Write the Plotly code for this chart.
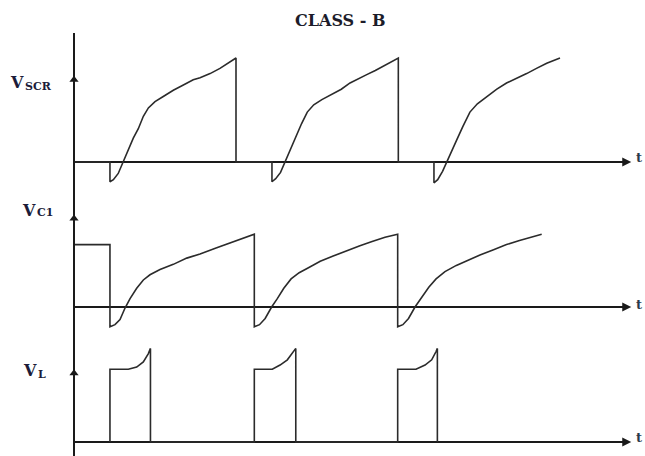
import plotly.graph_objects as go

# ---- waveform data (time in ms, voltage in relative units) ----
# SCR voltage
t_scr = [0, 2.22, 2.22, 2.43, 2.73, 3.04, 3.35, 3.66, 3.97, 4.28, 4.59, 5.00, 5.51, 6.13, 6.75, 7.36,
         7.78, 8.40, 9.01, 9.63, 10.0, 10.0,
         12.22, 12.22, 12.45, 12.75, 13.02, 13.35, 13.7, 14.05, 14.4, 14.8, 15.3, 15.9, 16.5, 17.04,
         17.6, 18.07, 18.6, 19.07, 19.6, 20.02, 20.02,
         22.22, 22.22, 22.45, 22.75, 23.0, 23.3, 23.62, 24.0, 24.44, 24.9, 25.47, 26.1, 26.7, 27.3,
         27.94, 28.55, 29.18, 30.0]
v_scr = [0, 0, -19, -17, -11, 0, 12, 23, 32, 44, 52, 58, 63, 69, 74, 79,
         81, 85, 90, 96, 100, 0,
         0, -19, -16, -10, 0, 12, 25, 37, 48, 55, 60, 65, 70, 76,
         80, 84, 88, 92, 96, 100, 0,
         0, -20, -17, -9, 0, 10, 21, 34, 48, 56, 63, 70, 76, 80,
         85, 90, 95, 100]

# Commutating capacitor voltage
t_c1 = [0, 2.22, 2.22, 2.53, 2.84, 3.15, 3.46, 3.87, 4.28, 4.69, 5.31, 6.13, 6.96, 7.78, 8.81, 9.83,
        11.13, 11.13,
        11.45, 11.8, 12.2, 12.55, 12.95, 13.4, 13.9, 14.5, 15.2, 16.0, 16.8, 17.65, 18.4, 19.2,
        19.98, 19.98,
        20.3, 20.65, 21.05, 21.45, 21.9, 22.35, 22.9, 23.6, 24.3, 25.06, 25.9, 26.7, 27.5, 28.2, 28.87]
v_c1 = [60, 60, -19, -17, -12, -1, 8, 18, 26, 31, 36, 41, 47, 51, 57, 63,
        70, -19,
        -17, -11, 0, 8, 18, 27, 33, 38, 44, 49, 54, 59, 63, 67,
        70, -19,
        -17, -11, 0, 9, 19, 27, 34, 40, 45, 50, 55, 60, 64, 67, 70]

# Load voltage
t_l = [2.22, 2.22, 3.35, 3.87, 4.28, 4.59, 4.72, 4.72,
       11.13, 11.13, 12.24, 12.72, 13.17, 13.54, 13.69, 13.69,
       19.98, 19.98, 21.11, 21.67, 22.08, 22.35, 22.43, 22.43]
v_l = [0, 70, 70, 72, 77, 85, 90, 0,
       0, 70, 70, 74, 79, 87, 90, 0,
       0, 70, 70, 74, 79, 87, 90, 0]

# panel labels: main symbol and subscript
label_main = ["V", "V", "V"]
label_sub = ["SCR", "C1", "L"]

# arrow marks on the shared vertical axis, one per panel
axis_marks = [79, 85, 66]
t_end = 34.4

W, H = 645, 456
X0_PX, PX_PER_MS, PX_PER_V = 74, 16.2, 1.04


def panel(top_px, bottom_px, base_px):
    dom = [1 - bottom_px / H, 1 - top_px / H]
    rng = [(base_px - bottom_px) / PX_PER_V, (base_px - top_px) / PX_PER_V]
    return dict(domain=dom, range=rng, visible=False, anchor="x", fixedrange=True)


fig = go.Figure()
ink = "#1a1a1a"
wave = dict(color="#2b2b2b", width=1.6)
panels = ["y", "y2", "y3"]

# time axes with arrowheads
for ax in panels:
    fig.add_trace(go.Scatter(x=[0, t_end - 0.3], y=[0, 0], mode="lines", yaxis=ax,
                             line=dict(color=ink, width=2), hoverinfo="skip"))
    fig.add_trace(go.Scatter(x=[t_end], y=[0], mode="markers", yaxis=ax,
                             marker=dict(symbol="arrow-right", size=9, color=ink,
                                         line=dict(width=0)),
                             hoverinfo="skip", cliponaxis=False))

for t, v, ax in [(t_scr, v_scr, "y"), (t_c1, v_c1, "y2"), (t_l, v_l, "y3")]:
    fig.add_trace(go.Scatter(x=t, y=v, mode="lines", line=wave, yaxis=ax, xaxis="x",
                             hoverinfo="skip", cliponaxis=False))

for mark, ax in zip(axis_marks, panels):
    fig.add_trace(go.Scatter(x=[0], y=[mark], mode="markers", yaxis=ax,
                             marker=dict(symbol="triangle-up", size=8, color=ink),
                             hoverinfo="skip", cliponaxis=False))

annotations = []
serif = "DejaVu Serif"
label_color = "#1c1c3a"
# (right edge of the V, vertical centre of V, vertical centre of subscript) in pixels
label_pos = [(26, 82, 87), (38, 210, 213), (39, 370, 374)]
for main, sub, (xr, ym, ys) in zip(label_main, label_sub, label_pos):
    annotations.append(dict(x=xr / W, y=1 - ym / H, xref="paper", yref="paper", text=main,
                            showarrow=False, xanchor="right", yanchor="middle",
                            font=dict(family=serif, size=16, color=label_color, weight="bold")))
    annotations.append(dict(x=(xr - 3) / W, y=1 - ys / H, xref="paper", yref="paper", text=sub,
                            showarrow=False, xanchor="left", yanchor="middle",
                            font=dict(family=serif, size=11, color=label_color, weight="bold")))

for yp in [157, 304, 437]:
    annotations.append(dict(x=639 / W, y=1 - yp / H, xref="paper", yref="paper", text="t",
                            showarrow=False, xanchor="center", yanchor="middle",
                            font=dict(family=serif, size=13, color="#2a3a4a", weight="bold")))

annotations.append(dict(x=340 / W, y=1 - 20 / H, xref="paper", yref="paper", text="CLASS - B",
                        showarrow=False, xanchor="center", yanchor="middle",
                        font=dict(family=serif, size=16, color="#1c1c2a", weight="bold")))

fig.update_layout(
    width=W, height=H,
    margin=dict(l=0, r=0, t=0, b=0),
    paper_bgcolor="white", plot_bgcolor="white",
    showlegend=False,
    xaxis=dict(domain=[0, 1], range=[-X0_PX / PX_PER_MS, (W - X0_PX) / PX_PER_MS],
               visible=False, fixedrange=True, anchor="y3"),
    yaxis=panel(30, 192, 162),
    yaxis2=panel(195, 335, 307),
    yaxis3=panel(338, 456, 442),
    shapes=[dict(type="line", xref="x", yref="paper", x0=0, x1=0, y0=0, y1=1 - 33 / H,
                 line=dict(color=ink, width=2))],
    annotations=annotations,
)

fig.write_html("out.html")
